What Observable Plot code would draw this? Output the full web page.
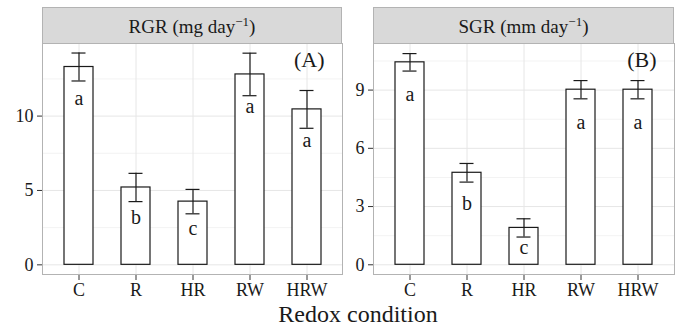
<!DOCTYPE html>
<html><head><meta charset="utf-8">
<script src="https://cdn.jsdelivr.net/npm/d3@7"></script>
<script src="https://cdn.jsdelivr.net/npm/@observablehq/plot@0.6"></script>
<style>
body{margin:0;background:#fff;}
#wrap{position:relative;width:680px;height:329px;font-family:"Liberation Serif",serif;color:#1a1a1a;overflow:hidden;}
.panel{position:absolute;top:0;}
.strip{position:absolute;top:7px;height:37px;background:#d9d9d9;border:1px solid #b3b3b3;box-sizing:border-box;display:flex;align-items:center;justify-content:center;font-size:19px;color:#1a1a1a;}
.strip span{display:inline-block;line-height:1;padding-top:2px;}
.strip sup{font-size:13px;vertical-align:7px;line-height:0;}
#xtitle{position:absolute;top:302px;left:42px;width:632px;text-align:center;font-size:24px;line-height:1;}
</style>
</head><body>
<div id="wrap"></div>
<script>
const conditions = ["C", "R", "HR", "RW", "HRW"];

const rgrMean = [13.3, 5.2, 4.25, 12.8, 10.45];
const rgrSE = [0.94, 0.95, 0.82, 1.43, 1.27];
const rgrLetters = ["a", "b", "c", "a", "a"];
const rgrLetterY = [11.17, 3.2, 2.46, 10.65, 8.36];
const rgrTicks = [0, 5, 10];
const rgrMinor = [2.5, 7.5, 12.5];

const sgrMean = [10.43, 4.74, 1.9, 9.02, 9.02];
const sgrSE = [0.45, 0.48, 0.47, 0.47, 0.47];
const sgrLetters = ["a", "b", "c", "a", "a"];
const sgrLetterY = [8.77, 3.17, 0.9, 7.35, 7.35];
const sgrTicks = [0, 3, 6, 9];
const sgrMinor = [1.5, 4.5, 7.5, 10.5];

const font = "Liberation Serif, serif";
const ink = "#1a1a1a";

function panel({means, se, letters, letterY, yDomain, yTicks, yMinor, tag, width, marginLeft, marginRight}) {
  const data = conditions.map((c, i) => ({
    cond: c, mean: means[i], lo: means[i] - se[i], hi: means[i] + se[i],
    letter: letters[i], ly: letterY[i]
  }));
  return Plot.plot({
    width, height: 300, marginTop: 43, marginBottom: 26, marginLeft, marginRight,
    style: {fontFamily: font, fontSize: "18px", color: ink, background: "transparent", overflow: "visible"},
    x: {domain: conditions, paddingInner: 0.5, paddingOuter: 0.35},
    y: {domain: yDomain},
    marks: [
      Plot.gridY(yMinor, {stroke: "#f3f3f3", strokeOpacity: 1}),
      Plot.gridY(yTicks, {stroke: "#e6e6e6", strokeOpacity: 1}),
      Plot.gridX(conditions, {stroke: "#e6e6e6", strokeOpacity: 1}),
      Plot.axisY(yTicks, {tickSize: 5, tickPadding: 4, label: null, fontSize: 18, stroke: "#333", fill: ink}),
      Plot.axisX(conditions, {tickSize: 6, tickPadding: 3, label: null, fontSize: 18, stroke: "#333", fill: ink}),
      Plot.barY(data, {x: "cond", y: "mean", fill: "white", stroke: ink, strokeWidth: 1.2}),
      Plot.ruleX(data, {x: "cond", y1: "lo", y2: "hi", stroke: ink, strokeWidth: 1.2}),
      Plot.tickY(data, {x: "cond", y: "lo", insetLeft: 7.5, insetRight: 7.5, stroke: ink, strokeWidth: 1.2}),
      Plot.tickY(data, {x: "cond", y: "hi", insetLeft: 7.5, insetRight: 7.5, stroke: ink, strokeWidth: 1.2}),
      Plot.text(data, {x: "cond", y: "ly", text: "letter", fontSize: 20, fill: ink, fontFamily: font}),
      Plot.text([tag], {frameAnchor: "top-right", dx: -18, dy: 8, fontSize: 22, textAnchor: "end", lineAnchor: "top", fill: ink, fontFamily: font}),
      Plot.frame({stroke: "#b3b3b3"})
    ]
  });
}

const wrap = document.getElementById("wrap");

const left = panel({means: rgrMean, se: rgrSE, letters: rgrLetters, letterY: rgrLetterY,
  yDomain: [-0.65, 14.88], yTicks: rgrTicks, yMinor: rgrMinor, tag: "(A)",
  width: 345, marginLeft: 42, marginRight: 3});
left.classList.add("panel");
left.style.left = "0px";
wrap.appendChild(left);

const right = panel({means: sgrMean, se: sgrSE, letters: sgrLetters, letterY: sgrLetterY,
  yDomain: [-0.5, 11.4], yTicks: sgrTicks, yMinor: sgrMinor, tag: "(B)",
  width: 340, marginLeft: 33, marginRight: 6});
right.classList.add("panel");
right.style.left = "340px";
wrap.appendChild(right);

function strip(html, x, w) {
  const d = document.createElement("div");
  d.className = "strip";
  d.style.left = x + "px";
  d.style.width = w + "px";
  d.innerHTML = "<span>" + html + "</span>";
  wrap.appendChild(d);
}
strip("RGR (mg day<sup>−1</sup>)", 42, 300);
strip("SGR (mm day<sup>−1</sup>)", 373, 301);

const xt = document.createElement("div");
xt.id = "xtitle";
xt.textContent = "Redox condition";
wrap.appendChild(xt);
</script>
</body></html>
